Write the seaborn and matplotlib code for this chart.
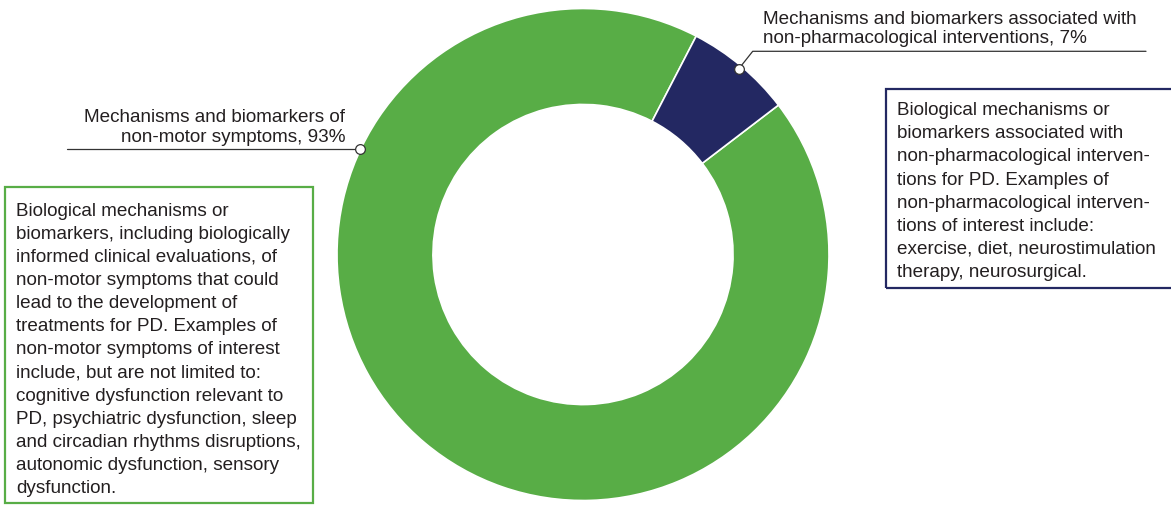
import numpy as np
import matplotlib
matplotlib.use("Agg")
import matplotlib.pyplot as plt
import seaborn as sns
from matplotlib.patches import Rectangle

categories = ["Mechanisms and biomarkers of\nnon-motor symptoms", 
              "Mechanisms and biomarkers associated with\nnon-pharmacological interventions"]
values = [93, 7]
colors = ["#58AD46", "#232862"]
box_texts = [
    "Biological mechanisms or\nbiomarkers, including biologically\ninformed clinical evaluations, of\n"
    "non-motor symptoms that could\nlead to the development of\ntreatments for PD. Examples of\n"
    "non-motor symptoms of interest\ninclude, but are not limited to:\ncognitive dysfunction relevant to\n"
    "PD, psychiatric dysfunction, sleep\nand circadian rhythms disruptions,\nautonomic dysfunction, sensory\n"
    "dysfunction.",
    "Biological mechanisms or\nbiomarkers associated with\nnon-pharmacological interven-\n"
    "tions for PD. Examples of\nnon-pharmacological interven-\ntions of interest include:\n"
    "exercise, diet, neurostimulation\ntherapy, neurosurgical.",
]

sns.set_theme(style="white")
plt.rcParams['font.family'] = ['Liberation Sans', 'DejaVu Sans']
FS_BOX, FS_LAB, LS_BOX, LS_LAB = 13.6, 13.6, 1.47, 1.17
TXT = "#231F20"

W, H = 1171, 506
fig = plt.figure(figsize=(W / 100, H / 100), dpi=100)
ax = fig.add_axes([0, 0, 1, 1])

cx, cy, R = 583, H - 255.5, 246
start = 90 - 52.6
wedges, _ = ax.pie(values, colors=colors, startangle=start, counterclock=False,
                   center=(cx, cy), radius=R,
                   wedgeprops=dict(width=R * 0.39, edgecolor="white", linewidth=1.2))
ax.set_xlim(0, W)
ax.set_ylim(0, H)
ax.set_aspect("equal")
ax.axis("off")

# labels
ax.text(345, H - 141.7, f"{categories[0]}, {values[0]}%", ha="right", va="baseline",
        fontsize=FS_LAB, color=TXT, linespacing=LS_LAB)
ax.text(763, H - 43, f"{categories[1]}, {values[1]}%", ha="left", va="baseline",
        fontsize=FS_LAB, color=TXT, linespacing=LS_LAB)

# connectors
w1 = wedges[1]
mid = np.deg2rad((w1.theta1 + w1.theta2) / 2)
mx, my = cx + R * 0.985 * np.cos(mid), cy + R * 0.985 * np.sin(mid)
ax.plot([mx, 752.7, 1146], [my, H - 52.3, H - 52.3], color="#333333", lw=0.9, zorder=3)
ax.plot([mx], [my], marker="o", ms=7, mfc="white", mec="#333333", mew=0.9, zorder=4)

ang0 = np.deg2rad(90 + 64.6)
gx, gy = cx + 247 * np.cos(ang0), cy + 247 * np.sin(ang0)
ax.plot([67, gx], [gy, gy], color="#333333", lw=0.9, zorder=3)
ax.plot([gx], [gy], marker="o", ms=7, mfc="white", mec="#333333", mew=0.9, zorder=4)

# boxes
ax.add_patch(Rectangle((5, H - 504), 308, 316, fill=False, edgecolor=colors[0], lw=1.6, zorder=2))
ax.text(16, H - 493, box_texts[0], ha="left", va="baseline", fontsize=FS_BOX, color=TXT,
        linespacing=LS_BOX)
ax.add_patch(Rectangle((886, H - 289), 300, 199, fill=False, edgecolor=colors[1], lw=1.6, zorder=2,
                       clip_on=False))
ax.text(897, H - 277, box_texts[1], ha="left", va="baseline", fontsize=FS_BOX, color=TXT,
        linespacing=LS_BOX)

fig.savefig("out.png", dpi=100)
